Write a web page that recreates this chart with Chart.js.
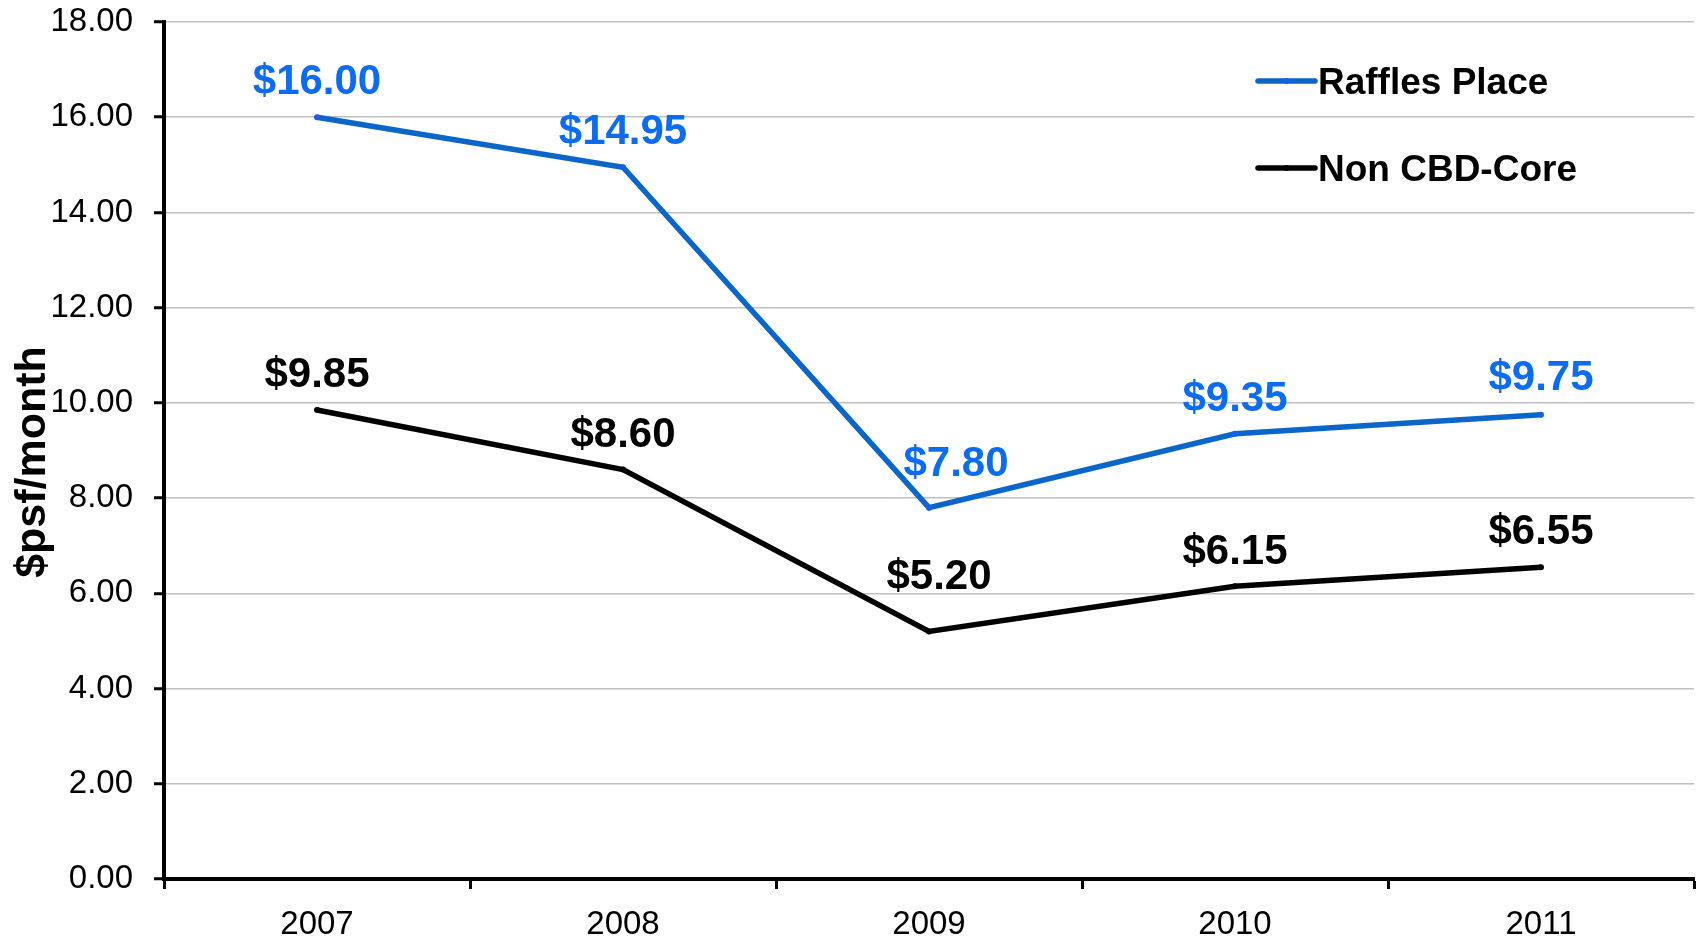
<!DOCTYPE html>
<html>
<head>
<meta charset="utf-8">
<script src="https://cdn.jsdelivr.net/npm/chart.js@4"></script>
<style>
  html, body { margin: 0; padding: 0; background: #ffffff; }
  #wrap { width: 1701px; height: 938px; position: relative; }
</style>
</head>
<body>
<div id="wrap"><canvas id="c" width="1701" height="938"></canvas></div>
<script>
const years = ['2007', '2008', '2009', '2010', '2011'];
const rafflesPlace = [16.00, 14.95, 7.80, 9.35, 9.75];
const nonCbdCore = [9.85, 8.60, 5.20, 6.15, 6.55];
const seriesNames = ['Raffles Place', 'Non CBD-Core'];
const yTicks = { min: 0, max: 18, step: 2 };
const yTitle = '$psf/month';

const FONT = "'Liberation Sans', Arial, Helvetica, sans-serif";
const BLUE_LINE = '#0a66c8';
const BLUE_TEXT = '#0a6cf2';
const BLACK = '#000000';

// label offsets (px) relative to each point: [dx, dy] of text center
const labelOffsets = [
  [[0, -38], [0, -38], [27, -47], [0, -38], [0, -40]],
  [[0, -38], [0, -38], [10, -57], [0, -37], [0, -38]]
];

const dataLabelPlugin = {
  id: 'dataLabels',
  afterDatasetsDraw(chart) {
    const ctx = chart.ctx;
    const size = 42;
    ctx.save();
    ctx.font = 'bold ' + size + 'px ' + FONT;
    ctx.textAlign = 'center';
    ctx.textBaseline = 'alphabetic';
    chart.data.datasets.forEach((ds, di) => {
      const meta = chart.getDatasetMeta(di);
      ctx.fillStyle = ds.labelColor;
      meta.data.forEach((pt, i) => {
        const off = labelOffsets[di][i];
        const txt = '$' + ds.data[i].toFixed(2);
        ctx.fillText(txt, pt.x + off[0], pt.y + off[1] + size * 0.358);
      });
    });
    ctx.restore();
  }
};

const legendPlugin = {
  id: 'customLegend',
  afterDraw(chart) {
    const ctx = chart.ctx;
    const x0 = 1258, lineLen = 57, rowY = [81, 168];
    ctx.save();
    ctx.font = 'bold 37px ' + FONT;
    ctx.textAlign = 'left';
    ctx.textBaseline = 'alphabetic';
    chart.data.datasets.forEach((ds, di) => {
      const y = rowY[di];
      ctx.strokeStyle = ds.borderColor;
      ctx.lineWidth = 5.5;
      ctx.lineCap = 'round';
      ctx.beginPath();
      ctx.moveTo(x0, y);
      ctx.lineTo(x0 + lineLen, y);
      ctx.stroke();
      ctx.fillStyle = ds.pointBackgroundColor;
      ctx.beginPath();
      ctx.arc(x0 + lineLen / 2, y, 3, 0, Math.PI * 2);
      ctx.fill();
      ctx.fillStyle = '#000000';
      ctx.fillText(ds.label, x0 + lineLen + 3, y + 37 * 0.358);
    });
    // y axis title
    ctx.translate(33, 462);
    ctx.rotate(-Math.PI / 2);
    ctx.font = 'bold 43px ' + FONT;
    ctx.textAlign = 'center';
    ctx.textBaseline = 'middle';
    ctx.fillStyle = '#000000';
    ctx.fillText(yTitle, 0, 0);
    ctx.restore();
  }
};

new Chart(document.getElementById('c'), {
  type: 'line',
  data: {
    labels: years,
    datasets: [
      {
        label: seriesNames[0],
        data: rafflesPlace,
        borderColor: BLUE_LINE,
        backgroundColor: BLUE_LINE,
        pointBackgroundColor: '#1a5ee8',
        pointBorderColor: BLUE_LINE,
        labelColor: BLUE_TEXT,
        borderWidth: 5.5,
        pointRadius: 3,
        pointBorderWidth: 0,
        tension: 0,
        fill: false
      },
      {
        label: seriesNames[1],
        data: nonCbdCore,
        borderColor: BLACK,
        backgroundColor: BLACK,
        pointBackgroundColor: BLACK,
        pointBorderColor: BLACK,
        labelColor: BLACK,
        borderWidth: 5.5,
        pointRadius: 3,
        pointBorderWidth: 0,
        tension: 0,
        fill: false
      }
    ]
  },
  options: {
    responsive: false,
    animation: false,
    devicePixelRatio: 1,
    layout: { padding: { top: 22, right: 7, bottom: 0, left: 0 } },
    plugins: {
      legend: { display: false },
      tooltip: { enabled: false },
      title: { display: false }
    },
    scales: {
      x: {
        type: 'category',
        offset: true,
        grid: {
          offset: true,
          drawOnChartArea: false,
          drawTicks: true,
          tickLength: 10,
          tickWidth: 3,
          tickColor: '#000000'
        },
        border: { display: true, color: '#000000', width: 4 },
        ticks: {
          color: '#000000',
          font: { family: FONT, size: 33 },
          padding: 16,
          maxRotation: 0,
          autoSkip: false
        },
        afterFit(scale) {
          scale.height = 59;
          scale.paddingLeft = 0;
          scale.paddingRight = 0;
        }
      },
      y: {
        min: yTicks.min,
        max: yTicks.max,
        grid: {
          color: '#c0c0c0',
          lineWidth: 1.5,
          drawTicks: true,
          tickLength: 10,
          tickColor: '#000000',
          tickWidth: 3
        },
        border: { display: true, color: '#000000', width: 4 },
        ticks: {
          stepSize: yTicks.step,
          color: '#000000',
          font: { family: FONT, size: 33 },
          padding: 21,
          callback: (v) => Number(v).toFixed(2)
        },
        title: { display: false },
        afterFit(scale) {
          scale.width = 164;
          scale.paddingTop = 0;
          scale.paddingBottom = 0;
        }
      }
    }
  },
  plugins: [dataLabelPlugin, legendPlugin]
});
</script>
</body>
</html>
